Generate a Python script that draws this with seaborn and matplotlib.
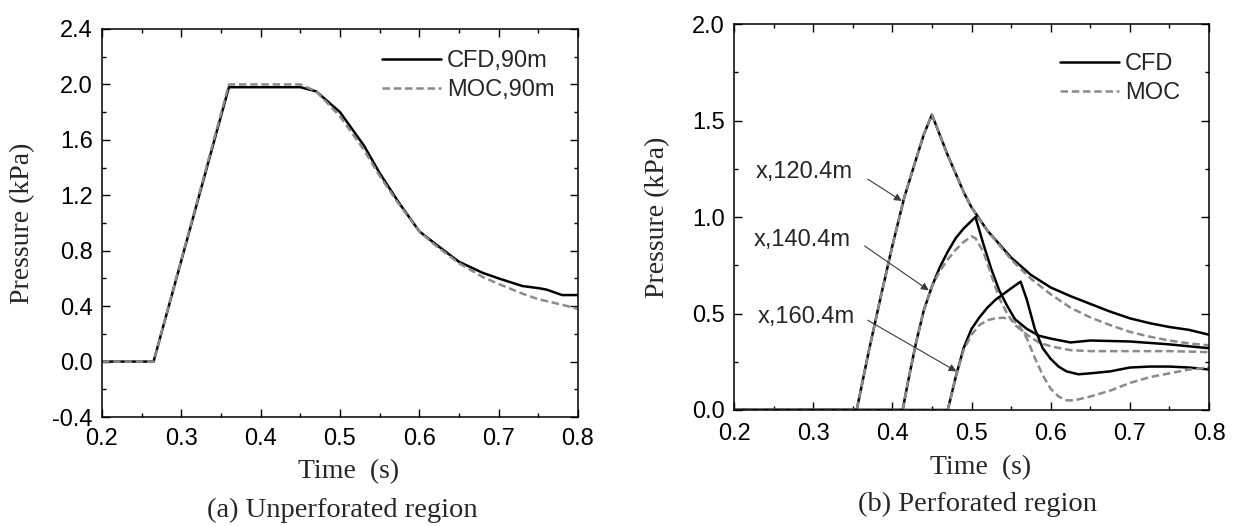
import matplotlib
matplotlib.use("Agg")
import matplotlib.pyplot as plt
import seaborn as sns
import pandas as pd
from matplotlib.ticker import MultipleLocator

# ---------------- data ----------------
# (a) Unperforated region, 90 m
ta_cfd = [0.2, 0.265, 0.36, 0.45, 0.47, 0.5, 0.53, 0.55, 0.575, 0.6, 0.62, 0.65, 0.68, 0.7, 0.73, 0.75, 0.76, 0.78, 0.8]
pa_cfd = [0, 0, 1.98, 1.98, 1.95, 1.80, 1.56, 1.36, 1.14, 0.94, 0.85, 0.72, 0.64, 0.60, 0.545, 0.53, 0.52, 0.48, 0.48]
ta_moc = [0.2, 0.265, 0.36, 0.45, 0.47, 0.5, 0.53, 0.55, 0.575, 0.6, 0.62, 0.65, 0.68, 0.7, 0.73, 0.75, 0.78, 0.8]
pa_moc = [0, 0, 2.0, 2.0, 1.95, 1.77, 1.53, 1.34, 1.13, 0.94, 0.84, 0.71, 0.61, 0.56, 0.49, 0.45, 0.41, 0.38]

# (b) Perforated region
t1 = [0.2, 0.355, 0.37, 0.385, 0.4, 0.415, 0.43, 0.44, 0.45, 0.47, 0.49, 0.5, 0.52, 0.55, 0.575, 0.6, 0.625, 0.65, 0.675, 0.7, 0.725, 0.75, 0.775, 0.8]
p1_cfd = [0, 0, 0.3, 0.58, 0.85, 1.1, 1.3, 1.43, 1.53, 1.32, 1.13, 1.05, 0.93, 0.79, 0.70, 0.635, 0.59, 0.55, 0.51, 0.475, 0.45, 0.43, 0.415, 0.39]
p1_moc = [0, 0, 0.3, 0.58, 0.85, 1.1, 1.3, 1.43, 1.53, 1.32, 1.13, 1.05, 0.93, 0.78, 0.68, 0.60, 0.53, 0.48, 0.44, 0.405, 0.38, 0.36, 0.345, 0.335]

t2 = [0.2, 0.413, 0.42, 0.43, 0.44, 0.45, 0.46, 0.47, 0.48, 0.49, 0.5, 0.505, 0.515, 0.525, 0.535, 0.545, 0.555, 0.57, 0.585, 0.6, 0.625, 0.65, 0.7, 0.75, 0.8]
p2_cfd = [0, 0, 0.15, 0.35, 0.52, 0.64, 0.74, 0.82, 0.89, 0.94, 0.98, 1.0, 0.86, 0.73, 0.62, 0.54, 0.47, 0.42, 0.385, 0.37, 0.35, 0.36, 0.355, 0.34, 0.32]
p2_moc = [0, 0, 0.15, 0.35, 0.52, 0.64, 0.72, 0.78, 0.83, 0.87, 0.90, 0.89, 0.82, 0.70, 0.58, 0.50, 0.44, 0.39, 0.35, 0.33, 0.31, 0.305, 0.305, 0.305, 0.30]

t3_cfd = [0.2, 0.47, 0.48, 0.49, 0.5, 0.51, 0.52, 0.53, 0.54, 0.55, 0.562, 0.57, 0.58, 0.59, 0.6, 0.61, 0.62, 0.635, 0.65, 0.675, 0.7, 0.725, 0.75, 0.775, 0.8]
p3_cfd = [0, 0, 0.17, 0.32, 0.42, 0.48, 0.53, 0.57, 0.60, 0.63, 0.665, 0.57, 0.42, 0.32, 0.265, 0.225, 0.20, 0.185, 0.19, 0.20, 0.22, 0.225, 0.225, 0.22, 0.21]
t3_moc = [0.2, 0.47, 0.48, 0.49, 0.5, 0.51, 0.52, 0.53, 0.54, 0.55, 0.56, 0.57, 0.58, 0.59, 0.6, 0.61, 0.62, 0.63, 0.65, 0.675, 0.7, 0.725, 0.75, 0.775, 0.8]
p3_moc = [0, 0, 0.17, 0.31, 0.39, 0.44, 0.465, 0.475, 0.478, 0.47, 0.44, 0.37, 0.27, 0.18, 0.11, 0.07, 0.05, 0.05, 0.07, 0.10, 0.14, 0.17, 0.19, 0.21, 0.22]

labels_b = ["x,120.4m", "x,140.4m", "x,160.4m"]

# ---------------- style ----------------
sns.set_theme(style="ticks")
plt.rcParams['font.family'] = ['Liberation Sans', 'DejaVu Sans']
plt.rcParams['axes.unicode_minus'] = False
SERIF = ['Liberation Serif', 'DejaVu Serif']
BLACK = "black"
GREY = "#8a8a8a"
LW = 1.8
DASH = (3.0, 1.5)

fig = plt.figure(figsize=(12.36, 5.26), dpi=100)
axA = fig.add_axes([102 / 1236, 1 - 417 / 526, 476 / 1236, 388 / 526])
axB = fig.add_axes([734 / 1236, 1 - 410 / 526, 475 / 1236, 386 / 526])


def draw(ax, t, p, color, label=None, dashed=False):
    df = pd.DataFrame({"t": t, "p": p})
    sns.lineplot(data=df, x="t", y="p", ax=ax, label=label, legend=False,
                 color=color, linewidth=LW)
    if dashed:
        ax.lines[-1].set_dashes(DASH)


# ---- (a)
draw(axA, ta_cfd, pa_cfd, BLACK, "CFD,90m")
draw(axA, ta_moc, pa_moc, GREY, "MOC,90m", dashed=True)
axA.set_xlim(0.2, 0.8)
axA.set_ylim(-0.4, 2.4)
axA.xaxis.set_major_locator(MultipleLocator(0.1))
axA.xaxis.set_minor_locator(MultipleLocator(0.05))
axA.yaxis.set_major_locator(MultipleLocator(0.4))
axA.yaxis.set_minor_locator(MultipleLocator(0.2))

# ---- (b)
draw(axB, t1, p1_cfd, BLACK, "CFD")
draw(axB, t1, p1_moc, GREY, "MOC", dashed=True)
draw(axB, t2, p2_cfd, BLACK)
draw(axB, t2, p2_moc, GREY, dashed=True)
draw(axB, t3_cfd, p3_cfd, BLACK)
draw(axB, t3_moc, p3_moc, GREY, dashed=True)
axB.set_xlim(0.2, 0.8)
axB.set_ylim(0.0, 2.0)
axB.xaxis.set_major_locator(MultipleLocator(0.1))
axB.xaxis.set_minor_locator(MultipleLocator(0.05))
axB.yaxis.set_major_locator(MultipleLocator(0.5))
axB.yaxis.set_minor_locator(MultipleLocator(0.25))

legend_anchor = {0: (0.588, 0.945), 1: (0.686, 0.925)}
xlabel_pos = {0: (0.519, -0.142), 1: (0.52, -0.148)}
ylabel_x = {0: -(102 - 23) / 476, 1: -(734 - 658) / 475}
for i, ax in enumerate((axA, axB)):
    ax.tick_params(which="both", direction="in", top=True, right=True,
                   labelsize=17, colors="black")
    ax.tick_params(which="major", length=5.5, width=1)
    ax.tick_params(which="minor", length=3.2, width=1)
    ax.tick_params(axis="y", pad=6.5)
    ax.tick_params(axis="x", pad=8 if i == 0 else 9.5)
    for s in ax.spines.values():
        s.set_linewidth(1.1)
        s.set_color("black")
    ax.set_xlabel("Time  (s)", fontsize=20, family=SERIF)
    ax.xaxis.set_label_coords(*xlabel_pos[i])
    ax.xaxis.label.set_va("center")
    ax.set_ylabel("Pressure (kPa)", fontsize=20, family=SERIF)
    ax.yaxis.set_label_coords(ylabel_x[i], 0.5)
    ax.yaxis.label.set_va("center")
    ax.legend(loc="upper left", frameon=False, fontsize=17, handlelength=2.5,
              handletextpad=0.25, labelspacing=0.3, borderpad=0.0,
              borderaxespad=0.0, bbox_to_anchor=legend_anchor[i])

# annotations (b)
txt_pos = [(0.228, 1.231), (0.225, 0.883), (0.230, 0.482)]
arrows = [((0.369, 1.196), (0.412, 1.083)),
          ((0.365, 0.850), (0.446, 0.620)),
          ((0.369, 0.465), (0.481, 0.200))]
for lab, tp, (a0, a1) in zip(labels_b, txt_pos, arrows):
    axB.text(tp[0], tp[1], lab, fontsize=17, ha="left", va="center")
    axB.annotate("", xy=a1, xytext=a0,
                 arrowprops=dict(arrowstyle="-|>", color="#3a3a3a", lw=0.8,
                                 shrinkA=0, shrinkB=0, mutation_scale=11))

fig.text(342 / 1236, 1 - 510 / 526, "(a) Unperforated region", ha="center",
         va="center", fontsize=20.5, family=SERIF)
fig.text(977 / 1236, 1 - 504 / 526, "(b) Perforated region", ha="center",
         va="center", fontsize=20.5, family=SERIF)

fig.savefig("out.png", dpi=100)
